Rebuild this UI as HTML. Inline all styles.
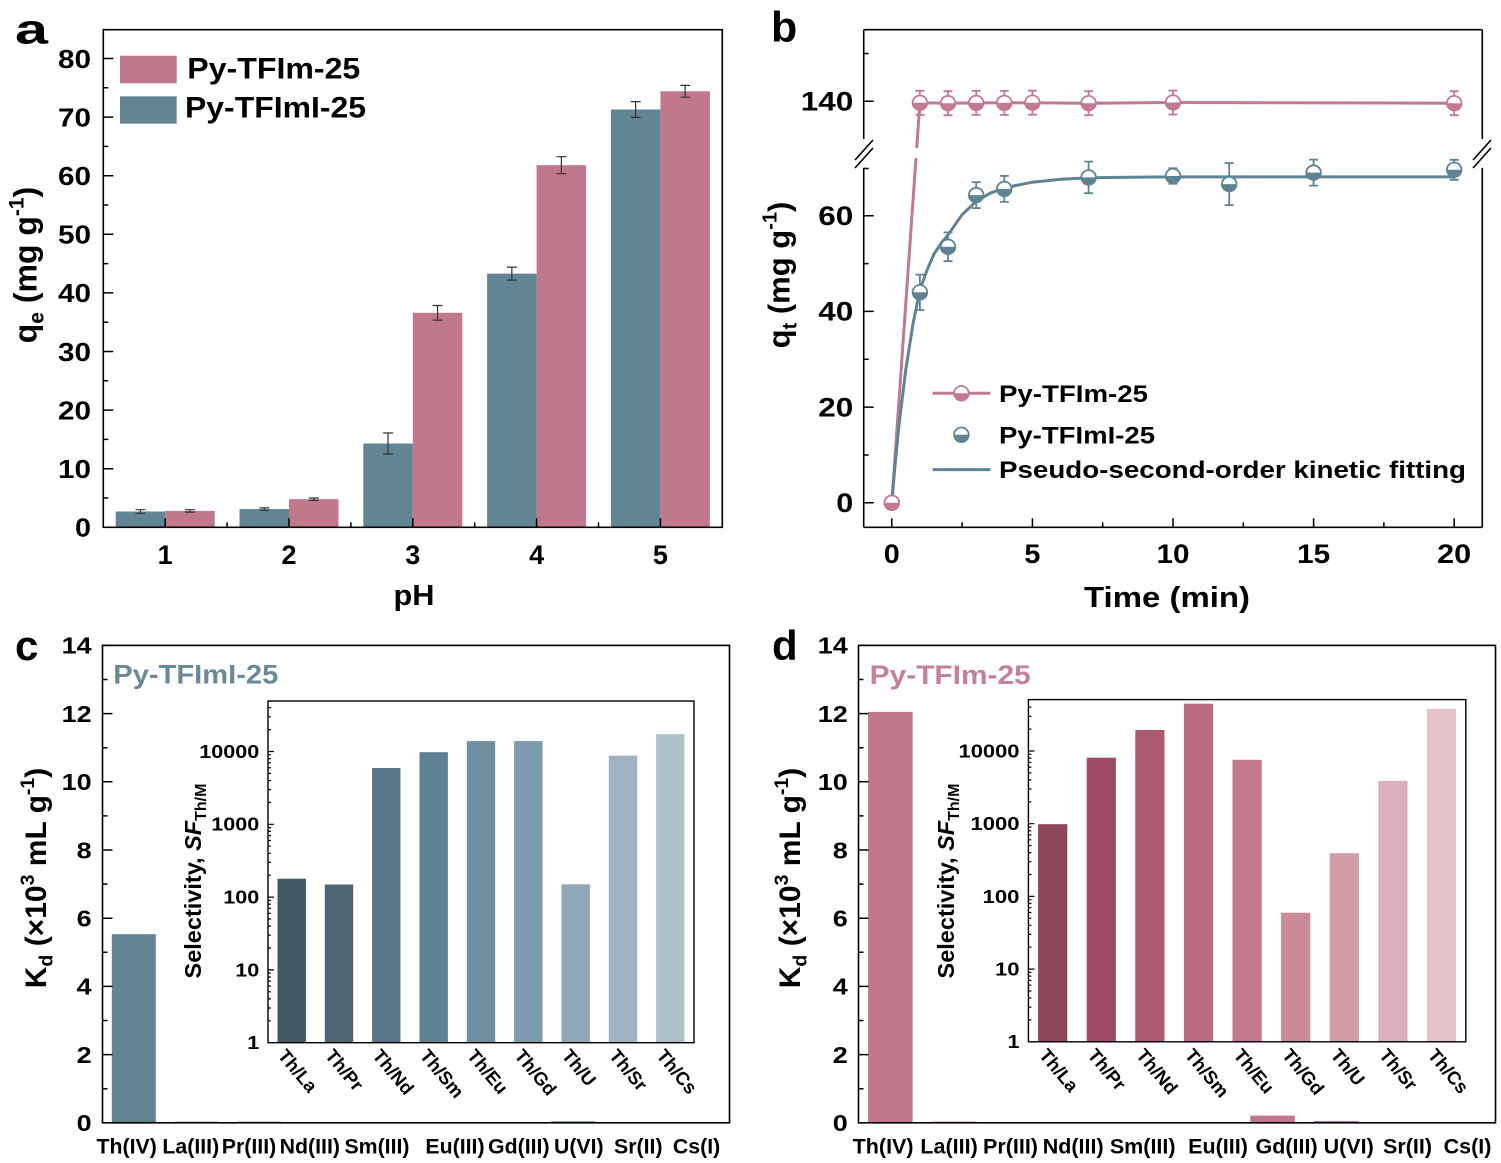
<!DOCTYPE html>
<html><head><meta charset="utf-8">
<style>
html,body{margin:0;padding:0;background:#fff;}
svg{display:block;}
text{font-family:"Liberation Sans",Arial,sans-serif;font-weight:bold;fill:#000;}
</style></head>
<body>
<svg width="1501" height="1163" viewBox="0 0 1501 1163" xmlns="http://www.w3.org/2000/svg">
<defs>
<g id="mp"><circle r="7.3" fill="#fff" stroke="#c27a90" stroke-width="1.8"/><path d="M-7.3,0A7.3,7.3 0 0 0 7.3,0Z" fill="#c27a90"/></g>
<g id="mb"><circle r="7.3" fill="#fff" stroke="#5e8494" stroke-width="1.8"/><path d="M-7.3,0A7.3,7.3 0 0 0 7.3,0Z" fill="#5e8494"/></g>
</defs>
<rect width="1501" height="1163" fill="#fff"/>

<!-- ================= PANEL A ================= -->
<text x="15" y="43.3" font-size="42" textLength="33" lengthAdjust="spacingAndGlyphs">a</text>
<g fill="#628594">
<rect x="115.7" y="511.5" width="49.5" height="15.8"/>
<rect x="239.5" y="509.1" width="49.5" height="18.2"/>
<rect x="363.3" y="443.5" width="49.5" height="83.8"/>
<rect x="487.1" y="273.6" width="49.5" height="253.7"/>
<rect x="610.9" y="109.5" width="49.5" height="417.8"/>
</g>
<g fill="#c0788c">
<rect x="165.2" y="510.9" width="49.5" height="16.4"/>
<rect x="289.0" y="499.2" width="49.5" height="28.1"/>
<rect x="412.8" y="312.8" width="49.5" height="214.5"/>
<rect x="536.6" y="165.2" width="49.5" height="362.1"/>
<rect x="660.4" y="91.3" width="49.5" height="436"/>
</g>
<path fill="none" stroke="#333" stroke-width="1.2" d="
M140.45,509.7V513.3M135.5,509.7h10M135.5,513.3h10
M189.95,509.7V512.1M185,509.7h10M185,512.1h10
M264.25,507.9V510.3M259.3,507.9h10M259.3,510.3h10
M313.75,498V500.4M308.8,498h10M308.8,500.4h10
M388.05,433V454M383.1,433h10M383.1,454h10
M437.55,305.5V320.1M432.6,305.5h10M432.6,320.1h10
M511.85,267.1V280.1M506.9,267.1h10M506.9,280.1h10
M561.35,156.7V173.7M556.4,156.7h10M556.4,173.7h10
M635.65,101.6V117.4M630.7,101.6h10M630.7,117.4h10
M685.15,85.4V97.2M680.2,85.4h10M680.2,97.2h10"/>
<rect x="103.3" y="29.7" width="619" height="497.6" fill="none" stroke="#000" stroke-width="1.6"/>
<path fill="none" stroke="#000" stroke-width="1.5" d="
M103.3,468.7h10M103.3,410.1h10M103.3,351.5h10M103.3,292.9h10M103.3,234.3h10M103.3,175.7h10M103.3,117.1h10M103.3,58.5h10
M103.3,498h5M103.3,439.4h5M103.3,380.8h5M103.3,322.2h5M103.3,263.6h5M103.3,205h5M103.3,146.4h5M103.3,87.8h5
M165.2,527.3v-9M289,527.3v-9M412.8,527.3v-9M536.6,527.3v-9M660.4,527.3v-9
M227.1,527.3v-5M350.9,527.3v-5M474.7,527.3v-5M598.5,527.3v-5"/>
<g font-size="26" text-anchor="end">
<text x="91" y="536.6" textLength="16" lengthAdjust="spacingAndGlyphs">0</text>
<text x="91" y="478" textLength="33" lengthAdjust="spacingAndGlyphs">10</text>
<text x="91" y="419.4" textLength="33" lengthAdjust="spacingAndGlyphs">20</text>
<text x="91" y="360.8" textLength="33" lengthAdjust="spacingAndGlyphs">30</text>
<text x="91" y="302.2" textLength="33" lengthAdjust="spacingAndGlyphs">40</text>
<text x="91" y="243.6" textLength="33" lengthAdjust="spacingAndGlyphs">50</text>
<text x="91" y="185" textLength="33" lengthAdjust="spacingAndGlyphs">60</text>
<text x="91" y="126.4" textLength="33" lengthAdjust="spacingAndGlyphs">70</text>
<text x="91" y="67.8" textLength="33" lengthAdjust="spacingAndGlyphs">80</text>
</g>
<g font-size="27" text-anchor="middle">
<text x="165.2" y="564">1</text>
<text x="289" y="564">2</text>
<text x="412.8" y="564">3</text>
<text x="536.6" y="564">4</text>
<text x="660.4" y="564">5</text>
</g>
<text x="414" y="605" font-size="29" text-anchor="middle" textLength="41" lengthAdjust="spacingAndGlyphs">pH</text>
<text transform="translate(36.5,265) rotate(-90)" text-anchor="middle" font-size="32">q<tspan font-size="21" dy="7">e</tspan><tspan dy="-7"> (mg g</tspan><tspan font-size="21" dy="-13">-1</tspan><tspan dy="13">)</tspan></text>
<rect x="120" y="55.7" width="56.7" height="27.6" fill="#c0788c"/>
<rect x="120" y="96.3" width="56.7" height="27.4" fill="#628594"/>
<text x="187.3" y="78.3" font-size="30" textLength="173" lengthAdjust="spacingAndGlyphs">Py-TFIm-25</text>
<text x="185" y="117.5" font-size="30" textLength="181" lengthAdjust="spacingAndGlyphs">Py-TFImI-25</text>

<!-- ================= PANEL B ================= -->
<text x="771" y="41.5" font-size="43">b</text>
<path fill="none" stroke="#000" stroke-width="1.6" d="M863.7,29.7H1482.3M863.7,527.3H1482.3M863.7,29.7V139M863.7,167.9V527.3M1482.3,29.7V139M1482.3,167.9V527.3"/>
<path fill="none" stroke="#000" stroke-width="1.6" d="M855,160L873,140M855,168L873,148M1473,160L1491,140M1473,168L1491,148"/>
<path fill="none" stroke="#000" stroke-width="1.5" d="
M863.7,502.8h10M863.7,407.1h10M863.7,311.4h10M863.7,215.7h10M863.7,101.3h10
M863.7,455h5M863.7,359.3h5M863.7,263.6h5M863.7,168.5h5M863.7,53.5h5
M891.8,527.3v-9M1032.4,527.3v-9M1173,527.3v-9M1313.6,527.3v-9M1454.2,527.3v-9
M962.1,527.3v-5M1102.7,527.3v-5M1243.3,527.3v-5M1383.9,527.3v-5"/>
<g font-size="26.5" text-anchor="end">
<text x="853.3" y="512.1" textLength="17" lengthAdjust="spacingAndGlyphs">0</text>
<text x="853.3" y="416.4" textLength="35" lengthAdjust="spacingAndGlyphs">20</text>
<text x="853.3" y="320.7" textLength="35" lengthAdjust="spacingAndGlyphs">40</text>
<text x="853.3" y="225" textLength="35" lengthAdjust="spacingAndGlyphs">60</text>
<text x="853.3" y="110.6" textLength="52.5" lengthAdjust="spacingAndGlyphs">140</text>
</g>
<g font-size="27" text-anchor="middle">
<text x="891.8" y="563" textLength="16" lengthAdjust="spacingAndGlyphs">0</text>
<text x="1032.4" y="563" textLength="16" lengthAdjust="spacingAndGlyphs">5</text>
<text x="1173" y="563" textLength="33" lengthAdjust="spacingAndGlyphs">10</text>
<text x="1313.6" y="563" textLength="33" lengthAdjust="spacingAndGlyphs">15</text>
<text x="1454.2" y="563" textLength="34" lengthAdjust="spacingAndGlyphs">20</text>
</g>
<text x="1167" y="607" font-size="29" text-anchor="middle" textLength="166" lengthAdjust="spacingAndGlyphs">Time (min)</text>
<text transform="translate(789.5,275) rotate(-90)" text-anchor="middle" font-size="31">q<tspan font-size="20" dy="7">t</tspan><tspan dy="-7"> (mg g</tspan><tspan font-size="20" dy="-13">-1</tspan><tspan dy="13">)</tspan></text>
<path fill="none" stroke="#c27a90" stroke-width="3" stroke-linejoin="round" d="M891.8,502.8L916,158M916.7,148L919.9,102.8L948,103.2L976.2,102.9L1004.3,102.9L1032.4,102.7L1088.6,103.2L1173,102.5L1454.2,103.2"/>
<path fill="none" stroke="#5e8494" stroke-width="3" stroke-linejoin="round" d="M891.8,502.8L894.6,470L898.8,426.7L905.9,368.8L912.9,324.3L919.9,289.9L927,270.2L934,254L941,243.5L948,234.8L962.1,214.7L976.2,201.3L990.2,193.2L1004.3,187.9L1032.4,182.2L1060.5,179.3L1088.6,177.9L1116.8,177.4L1173,176.9L1454.2,176.9"/>
<path fill="none" stroke="#c27a90" stroke-width="1.8" d="
M919.9,90.8V114.8M915.4,90.8h9M915.4,114.8h9
M948,91.2V115.2M943.5,91.2h9M943.5,115.2h9
M976.2,90.9V114.9M971.7,90.9h9M971.7,114.9h9
M1004.3,90.9V114.9M999.8,90.9h9M999.8,114.9h9
M1032.4,90.7V114.7M1027.9,90.7h9M1027.9,114.7h9
M1088.6,91.2V115.2M1084.1,91.2h9M1084.1,115.2h9
M1173,90.5V114.5M1168.5,90.5h9M1168.5,114.5h9
M1454.2,91.2V115.2M1449.7,91.2h9M1449.7,115.2h9"/>
<path fill="none" stroke="#5e8494" stroke-width="1.8" d="
M919.9,274.6V310M915.4,274.6h9M915.4,310h9
M948,232.4V261.2M943.5,232.4h9M943.5,261.2h9
M976.2,182.1V208.1M971.7,182.1h9M971.7,208.1h9
M1004.3,175.9V201.9M999.8,175.9h9M999.8,201.9h9
M1088.6,161.6V193.2M1084.1,161.6h9M1084.1,193.2h9
M1173,168.3V183.7M1168.5,168.3h9M1168.5,183.7h9
M1229.2,163.1V205.1M1224.7,163.1h9M1224.7,205.1h9
M1313.6,159.6V185.6M1309.1,159.6h9M1309.1,185.6h9
M1454.2,159.8V179.8M1449.7,159.8h9M1449.7,179.8h9"/>
<use href="#mb" x="891.8" y="502.8"/>
<use href="#mb" x="919.9" y="292.3"/>
<use href="#mb" x="948" y="246.8"/>
<use href="#mb" x="976.2" y="195.1"/>
<use href="#mb" x="1004.3" y="188.9"/>
<use href="#mb" x="1088.6" y="177.4"/>
<use href="#mb" x="1173" y="176"/>
<use href="#mb" x="1229.2" y="184.1"/>
<use href="#mb" x="1313.6" y="172.6"/>
<use href="#mb" x="1454.2" y="169.8"/>
<use href="#mp" x="891.8" y="502.8"/>
<use href="#mp" x="919.9" y="102.8"/>
<use href="#mp" x="948" y="103.2"/>
<use href="#mp" x="976.2" y="102.9"/>
<use href="#mp" x="1004.3" y="102.9"/>
<use href="#mp" x="1032.4" y="102.7"/>
<use href="#mp" x="1088.6" y="103.2"/>
<use href="#mp" x="1173" y="102.5"/>
<use href="#mp" x="1454.2" y="103.2"/>
<path d="M932.6,393.3H990.3" stroke="#c27a90" stroke-width="3"/>
<use href="#mp" x="961.4" y="393.3"/>
<use href="#mb" x="961.4" y="434.8"/>
<path d="M932.6,469.6H990.3" stroke="#5e8494" stroke-width="3"/>
<text x="999" y="401.8" font-size="24" textLength="149" lengthAdjust="spacingAndGlyphs">Py-TFIm-25</text>
<text x="999" y="443.3" font-size="24" textLength="156" lengthAdjust="spacingAndGlyphs">Py-TFImI-25</text>
<text x="999" y="478.1" font-size="24" textLength="467" lengthAdjust="spacingAndGlyphs">Pseudo-second-order kinetic fitting</text>

<!-- ================= PANEL C ================= -->
<text x="15" y="660" font-size="42">c</text>
<rect x="111.8" y="934.2" width="44" height="188.6" fill="#628594"/>
<rect x="174.55" y="1121.6" width="44" height="1.2" fill="#628594"/>
<rect x="237.25" y="1121.6" width="44" height="1.2" fill="#628594"/>
<rect x="550.75" y="1121.3" width="44" height="1.5" fill="#628594"/>
<rect x="102.5" y="645.4" width="627" height="477.4" fill="none" stroke="#000" stroke-width="1.6"/>
<path fill="none" stroke="#000" stroke-width="1.5" d="
M102.5,1054.6h10M102.5,986.4h10M102.5,918.2h10M102.5,850h10M102.5,781.8h10M102.5,713.6h10M102.5,645.4h10
M102.5,1088.7h5M102.5,1020.5h5M102.5,952.3h5M102.5,884.1h5M102.5,815.9h5M102.5,747.7h5M102.5,679.5h5"/>
<g font-size="23.3" text-anchor="end">
<text x="91.7" y="1131.1" textLength="15" lengthAdjust="spacingAndGlyphs">0</text>
<text x="91.7" y="1062.9" textLength="15" lengthAdjust="spacingAndGlyphs">2</text>
<text x="91.7" y="994.7" textLength="15" lengthAdjust="spacingAndGlyphs">4</text>
<text x="91.7" y="926.5" textLength="15" lengthAdjust="spacingAndGlyphs">6</text>
<text x="91.7" y="858.3" textLength="15" lengthAdjust="spacingAndGlyphs">8</text>
<text x="91.7" y="790.1" textLength="30" lengthAdjust="spacingAndGlyphs">10</text>
<text x="91.7" y="721.9" textLength="30" lengthAdjust="spacingAndGlyphs">12</text>
<text x="91.7" y="653.7" textLength="30" lengthAdjust="spacingAndGlyphs">14</text>
</g>
<g font-size="21.3" text-anchor="middle">
<text x="126.7" y="1153.3">Th(IV)</text>
<text x="190.8" y="1153.3">La(III)</text>
<text x="249" y="1153.3">Pr(III)</text>
<text x="309.8" y="1153.3">Nd(III)</text>
<text x="377" y="1153.3">Sm(III)</text>
<text x="455" y="1153.3">Eu(III)</text>
<text x="518.8" y="1153.3">Gd(III)</text>
<text x="578.8" y="1153.3">U(VI)</text>
<text x="638.3" y="1153.3">Sr(II)</text>
<text x="696.6" y="1153.3">Cs(I)</text>
</g>
<text transform="translate(46,878) rotate(-90)" text-anchor="middle" font-size="30">K<tspan font-size="19.5" dy="6.5">d</tspan><tspan dy="-6.5"> (×10</tspan><tspan font-size="19.5" dy="-12">3</tspan><tspan dy="12"> mL g</tspan><tspan font-size="19.5" dy="-12">-1</tspan><tspan dy="12">)</tspan></text>
<text x="113.3" y="683.3" font-size="26.5" style="fill:#6a8a99" textLength="165" lengthAdjust="spacingAndGlyphs">Py-TFImI-25</text>
<rect x="277.5" y="878.7" width="28.4" height="164" fill="#435966"/>
<rect x="324.8" y="884.5" width="28.4" height="158.2" fill="#4e6473"/>
<rect x="372.1" y="768" width="28.4" height="274.7" fill="#587486"/>
<rect x="419.5" y="752.2" width="28.4" height="290.5" fill="#5f8194"/>
<rect x="466.8" y="741.1" width="28.4" height="301.6" fill="#6e8ea2"/>
<rect x="514.1" y="741.1" width="28.4" height="301.6" fill="#7f9bae"/>
<rect x="561.5" y="884.3" width="28.4" height="158.4" fill="#8fa7b6"/>
<rect x="608.8" y="755.6" width="28.4" height="287.1" fill="#9fb3c0"/>
<rect x="656.1" y="734.2" width="28.4" height="308.5" fill="#afc1cb"/>
<rect x="268" y="701" width="426" height="341.7" fill="none" stroke="#000" stroke-width="1.4"/>
<path fill="none" stroke="#000" stroke-width="1.2" d="
M268,969.9h6M268,897.1h6M268,824.3h6M268,751.5h6
M268,1020.8h3M268,1008h3M268,998.9h3M268,991.8h3M268,986.1h3M268,981.2h3M268,977h3M268,973.2h3
M268,948h3M268,935.2h3M268,926.1h3M268,919h3M268,913.3h3M268,908.4h3M268,904.2h3M268,900.4h3
M268,875.2h3M268,862.4h3M268,853.3h3M268,846.2h3M268,840.5h3M268,835.6h3M268,831.4h3M268,827.6h3
M268,802.4h3M268,789.6h3M268,780.5h3M268,773.4h3M268,767.7h3M268,762.8h3M268,758.6h3M268,754.8h3
M268,729.6h3M268,716.8h3M268,707.7h3"/>
<g font-size="18" text-anchor="end">
<text x="259.3" y="757.9" textLength="60" lengthAdjust="spacingAndGlyphs">10000</text>
<text x="259.3" y="830.7" textLength="48" lengthAdjust="spacingAndGlyphs">1000</text>
<text x="259.3" y="903.5" textLength="36" lengthAdjust="spacingAndGlyphs">100</text>
<text x="259.3" y="976.3" textLength="24" lengthAdjust="spacingAndGlyphs">10</text>
<text x="259.3" y="1049.1" textLength="12" lengthAdjust="spacingAndGlyphs">1</text>
</g>
<text transform="translate(201,881) rotate(-90)" text-anchor="middle" font-size="23.5">Selectivity, <tspan font-style="italic">SF</tspan><tspan font-size="16" dy="5">Th/M</tspan></text>
<g font-size="18.5">
<text transform="translate(277,1056) rotate(50)">Th/La</text>
<text transform="translate(324.3,1056) rotate(50)">Th/Pr</text>
<text transform="translate(371.6,1056) rotate(50)">Th/Nd</text>
<text transform="translate(419,1056) rotate(50)">Th/Sm</text>
<text transform="translate(466.3,1056) rotate(50)">Th/Eu</text>
<text transform="translate(513.6,1056) rotate(50)">Th/Gd</text>
<text transform="translate(561,1056) rotate(50)">Th/U</text>
<text transform="translate(608.3,1056) rotate(50)">Th/Sr</text>
<text transform="translate(655.6,1056) rotate(50)">Th/Cs</text>
</g>

<!-- ================= PANEL D ================= -->
<text x="772" y="660" font-size="42">d</text>
<rect x="868.05" y="711.9" width="44.6" height="410.9" fill="#c0788c"/>
<rect x="931.75" y="1121.6" width="44.6" height="1.2" fill="#c0788c"/>
<rect x="1250.25" y="1115.6" width="44.6" height="7.2" fill="#c0788c"/>
<rect x="1313.95" y="1121" width="44.6" height="1.8" fill="#c0788c"/>
<rect x="858.5" y="645.4" width="637" height="477.4" fill="none" stroke="#000" stroke-width="1.6"/>
<path fill="none" stroke="#000" stroke-width="1.5" d="
M858.5,1054.6h10M858.5,986.4h10M858.5,918.2h10M858.5,850h10M858.5,781.8h10M858.5,713.6h10M858.5,645.4h10
M858.5,1088.7h5M858.5,1020.5h5M858.5,952.3h5M858.5,884.1h5M858.5,815.9h5M858.5,747.7h5M858.5,679.5h5"/>
<g font-size="23.3" text-anchor="end">
<text x="847.8" y="1131.1" textLength="15" lengthAdjust="spacingAndGlyphs">0</text>
<text x="847.8" y="1062.9" textLength="15" lengthAdjust="spacingAndGlyphs">2</text>
<text x="847.8" y="994.7" textLength="15" lengthAdjust="spacingAndGlyphs">4</text>
<text x="847.8" y="926.5" textLength="15" lengthAdjust="spacingAndGlyphs">6</text>
<text x="847.8" y="858.3" textLength="15" lengthAdjust="spacingAndGlyphs">8</text>
<text x="847.8" y="790.1" textLength="30" lengthAdjust="spacingAndGlyphs">10</text>
<text x="847.8" y="721.9" textLength="30" lengthAdjust="spacingAndGlyphs">12</text>
<text x="847.8" y="653.7" textLength="30" lengthAdjust="spacingAndGlyphs">14</text>
</g>
<g font-size="21.5" text-anchor="middle">
<text x="883.1" y="1153.5">Th(IV)</text>
<text x="949.1" y="1153.5">La(III)</text>
<text x="1010.5" y="1153.5">Pr(III)</text>
<text x="1073.2" y="1153.5">Nd(III)</text>
<text x="1142.7" y="1153.5">Sm(III)</text>
<text x="1218" y="1153.5">Eu(III)</text>
<text x="1286.6" y="1153.5">Gd(III)</text>
<text x="1348.7" y="1153.5">U(VI)</text>
<text x="1407.5" y="1153.5">Sr(II)</text>
<text x="1467.5" y="1153.5">Cs(I)</text>
</g>
<text transform="translate(800,878) rotate(-90)" text-anchor="middle" font-size="30">K<tspan font-size="19.5" dy="6.5">d</tspan><tspan dy="-6.5"> (×10</tspan><tspan font-size="19.5" dy="-12">3</tspan><tspan dy="12"> mL g</tspan><tspan font-size="19.5" dy="-12">-1</tspan><tspan dy="12">)</tspan></text>
<text x="869.7" y="684" font-size="26.5" style="fill:#c4819a" textLength="161" lengthAdjust="spacingAndGlyphs">Py-TFIm-25</text>
<rect x="1038.1" y="824.2" width="29.2" height="217.6" fill="#8e4459"/>
<rect x="1086.7" y="757.7" width="29.2" height="284.1" fill="#a04c67"/>
<rect x="1135.3" y="730" width="29.2" height="311.8" fill="#ad5a71"/>
<rect x="1183.9" y="703.7" width="29.2" height="338.1" fill="#b96b80"/>
<rect x="1232.5" y="759.8" width="29.2" height="282" fill="#c27b8e"/>
<rect x="1281.1" y="912.7" width="29.2" height="129.1" fill="#c98a9b"/>
<rect x="1329.7" y="853.2" width="29.2" height="188.6" fill="#d29dab"/>
<rect x="1378.3" y="780.9" width="29.2" height="260.9" fill="#dbafbb"/>
<rect x="1426.9" y="708.9" width="29.2" height="332.9" fill="#e4c3ca"/>
<rect x="1028.4" y="699.6" width="437.4" height="342.2" fill="none" stroke="#000" stroke-width="1.4"/>
<path fill="none" stroke="#000" stroke-width="1.2" d="
M1028.4,969.1h6M1028.4,896.4h6M1028.4,823.7h6M1028.4,751h6
M1028.4,1019.9h3M1028.4,1007.1h3M1028.4,998h3M1028.4,991h3M1028.4,985.2h3M1028.4,980.4h3M1028.4,976.2h3M1028.4,972.4h3
M1028.4,947.2h3M1028.4,934.4h3M1028.4,925.3h3M1028.4,918.3h3M1028.4,912.5h3M1028.4,907.7h3M1028.4,903.5h3M1028.4,899.7h3
M1028.4,874.5h3M1028.4,861.7h3M1028.4,852.6h3M1028.4,845.6h3M1028.4,839.8h3M1028.4,835h3M1028.4,830.8h3M1028.4,827h3
M1028.4,801.8h3M1028.4,789h3M1028.4,779.9h3M1028.4,772.9h3M1028.4,767.1h3M1028.4,762.3h3M1028.4,758.1h3M1028.4,754.3h3
M1028.4,729.1h3M1028.4,716.3h3M1028.4,707.2h3"/>
<g font-size="18" text-anchor="end">
<text x="1019.5" y="757.4" textLength="61" lengthAdjust="spacingAndGlyphs">10000</text>
<text x="1019.5" y="830.1" textLength="49" lengthAdjust="spacingAndGlyphs">1000</text>
<text x="1019.5" y="902.8" textLength="37" lengthAdjust="spacingAndGlyphs">100</text>
<text x="1019.5" y="975.5" textLength="24.5" lengthAdjust="spacingAndGlyphs">10</text>
<text x="1019.5" y="1048.2" textLength="12" lengthAdjust="spacingAndGlyphs">1</text>
</g>
<text transform="translate(954,881) rotate(-90)" text-anchor="middle" font-size="23.5">Selectivity, <tspan font-style="italic">SF</tspan><tspan font-size="16" dy="5">Th/M</tspan></text>
<g font-size="18.5">
<text transform="translate(1038.2,1055.5) rotate(50)">Th/La</text>
<text transform="translate(1086.8,1055.5) rotate(50)">Th/Pr</text>
<text transform="translate(1135.4,1055.5) rotate(50)">Th/Nd</text>
<text transform="translate(1184,1055.5) rotate(50)">Th/Sm</text>
<text transform="translate(1232.6,1055.5) rotate(50)">Th/Eu</text>
<text transform="translate(1281.2,1055.5) rotate(50)">Th/Gd</text>
<text transform="translate(1329.8,1055.5) rotate(50)">Th/U</text>
<text transform="translate(1378.4,1055.5) rotate(50)">Th/Sr</text>
<text transform="translate(1427,1055.5) rotate(50)">Th/Cs</text>
</g>
</svg>
</body></html>
